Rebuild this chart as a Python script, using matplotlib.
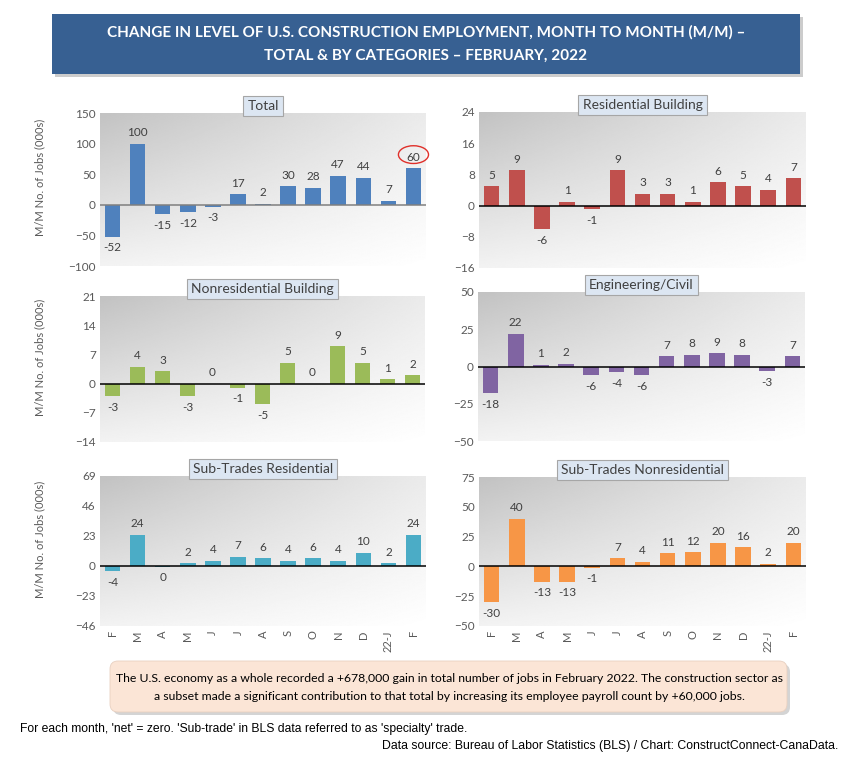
import matplotlib.pyplot as plt
import numpy as np
from matplotlib.patches import Ellipse, FancyBboxPatch, Rectangle

plt.rcParams['font.family'] = ['Lato', 'DejaVu Sans']

# month labels, Feb 2021 -> Feb 2022
months = ['F', 'M', 'A', 'M', 'J', 'J', 'A', 'S', 'O', 'N', 'D', '22-J', 'F']

# m/m change in jobs (000s)
total = [-52, 100, -15, -12, -3, 17, 2, 30, 28, 47, 44, 7, 60]
residential = [5, 9, -6, 1, -1, 9, 3, 3, 1, 6, 5, 4, 7]
nonresidential = [-3, 4, 3, -3, 0, -1, -5, 5, 0, 9, 5, 1, 2]
engineering = [-18, 22, 1, 2, -6, -4, -6, 7, 8, 9, 8, -3, 7]
subtrades_res = [-4, 24, -0.4, 2, 4, 7, 6, 4, 6, 4, 10, 2, 24]
subtrades_nonres = [-30, 40, -13, -13, -1, 7, 4, 11, 12, 20, 16, 2, 20]

titles = ['Total', 'Residential Building', 'Nonresidential Building',
          'Engineering/Civil', 'Sub-Trades Residential', 'Sub-Trades Nonresidential']
series = [total, residential, nonresidential, engineering, subtrades_res, subtrades_nonres]
colors = ['#4F81BD', '#C0504D', '#9BBB59', '#8064A2', '#4BACC6', '#F79646']
y_ranges = [(-100, 150, 50), (-16, 24, 8), (-14, 21, 7),
            (-50, 50, 25), (-46, 69, 23), (-50, 75, 25)]

W, H = 844, 768
# plot areas in pixels: left, top, right, bottom
boxes = [(100, 113, 426, 266), (479, 112, 806, 268),
         (100, 296, 425, 442), (478, 292, 805, 441),
         (100, 476, 426, 626), (479, 477, 806, 626)]

fig = plt.figure(figsize=(W / 100, H / 100), dpi=100)
fig.patch.set_facecolor('white')

# diagonal grey-to-white gradient used as plot-area fill (row 0 = top)
gx, gy = np.meshgrid(np.linspace(0, 1, 200), np.linspace(0, 1, 200))
grad = 0.76 + 0.16 * gx + 0.19 * gy - 0.11 * gx * gy

tick_col = '#595959'
for k in range(6):
    l, t, r, b = boxes[k]
    ax = fig.add_axes([l / W, 1 - b / H, (r - l) / W, (b - t) / H])
    ax.imshow(grad, extent=[0, 1, 0, 1], transform=ax.transAxes, aspect='auto',
              cmap='gray', vmin=0, vmax=1, zorder=0, interpolation='bilinear')
    vals = series[k]
    x = np.arange(len(vals))
    ax.bar(x, vals, width=0.62, color=colors[k], zorder=2)
    ax.axhline(0, color='#7f7f7f' if k == 0 else 'black', lw=1.1, zorder=3)
    for i, v in enumerate(vals):
        ax.annotate(str(int(round(v))), (i, v), xytext=(0, 4 if v >= 0 else -4),
                    textcoords='offset points', ha='center',
                    va='bottom' if v >= 0 else 'top', fontsize=8.5, color='#404040')
    lo, hi, step = y_ranges[k]
    ax.set_ylim(lo, hi)
    ax.set_xlim(-0.5, len(vals) - 0.5)
    ax.set_yticks(np.arange(lo, hi + 1, step))
    ax.tick_params(axis='y', length=0, pad=3, labelsize=8.5, labelcolor=tick_col)
    if k >= 4:
        ax.set_xticks(x)
        ax.set_xticklabels(months, rotation=90)
        ax.tick_params(axis='x', length=0, pad=3, labelsize=8, labelcolor=tick_col)
    else:
        ax.set_xticks([])
    for s in ax.spines.values():
        s.set_visible(False)
    if k % 2 == 0:
        ax.text(-0.184, 0.58, 'M/M No. of Jobs (000s)', transform=ax.transAxes,
                rotation=90, ha='center', va='center', fontsize=8, color=tick_col)
    ax.annotate(titles[k], (0.5, 1), xycoords='axes fraction', xytext=(0, 5),
                textcoords='offset points', ha='center', va='center',
                fontsize=10, color='#404040', zorder=5,
                bbox=dict(boxstyle='square,pad=0.3', fc='#DCE6F2', ec='#A6A6A6', lw=0.8))
    if k == 0:
        ax.add_patch(Ellipse((12, 82), 1.2, 29, fill=False, ec='#E0302A', lw=1,
                             zorder=4, clip_on=False))

# overlay in pixel coordinates for banner, note box and footer
ov = fig.add_axes([0, 0, 1, 1], zorder=-1)
ov.set_xlim(0, W)
ov.set_ylim(H, 0)
ov.axis('off')

ov.add_patch(Rectangle((55, 17), 748, 60, fc='#9a9a9a', alpha=0.5, ec='none'))
ov.add_patch(Rectangle((52, 14), 748, 60, fc='#376092', ec='none'))
ov.text(426, 32, 'CHANGE IN LEVEL OF U.S. CONSTRUCTION EMPLOYMENT, MONTH TO MONTH (M/M) \u2013',
        ha='center', va='center', color='white', fontsize=11, fontweight='bold')
ov.text(426, 56, 'TOTAL & BY CATEGORIES \u2013 FEBRUARY, 2022',
        ha='center', va='center', color='white', fontsize=11, fontweight='bold')

ov.add_patch(FancyBboxPatch((113, 664), 677, 51, boxstyle='round,pad=0,rounding_size=8',
                            fc='#a0a0a0', alpha=0.45, ec='none'))
ov.add_patch(FancyBboxPatch((110, 661), 677, 51, boxstyle='round,pad=0,rounding_size=8',
                            fc='#FBE5D6', ec='#e8d0c0', lw=0.6))
ov.text(449, 679, 'The U.S. economy as a whole recorded a +678,000 gain in total number of jobs '
        'in February 2022. The construction sector as',
        ha='center', va='center', fontsize=8.8, color='black')
ov.text(449, 697, 'a subset made a significant contribution to that total by increasing its '
        'employee payroll count by +60,000 jobs.',
        ha='center', va='center', fontsize=8.8, color='black')

ov.text(20, 729, "For each month, 'net' = zero. 'Sub-trade' in BLS data referred to as "
        "'specialty' trade.", ha='left', va='center', fontsize=8.7,
        family='Liberation Sans', color='black')
ov.text(838, 746, 'Data source: Bureau of Labor Statistics (BLS) / Chart: '
        'ConstructConnect-CanaData.', ha='right', va='center', fontsize=8.8,
        family='Liberation Sans', color='black')

fig.savefig('out.png', dpi=100)
